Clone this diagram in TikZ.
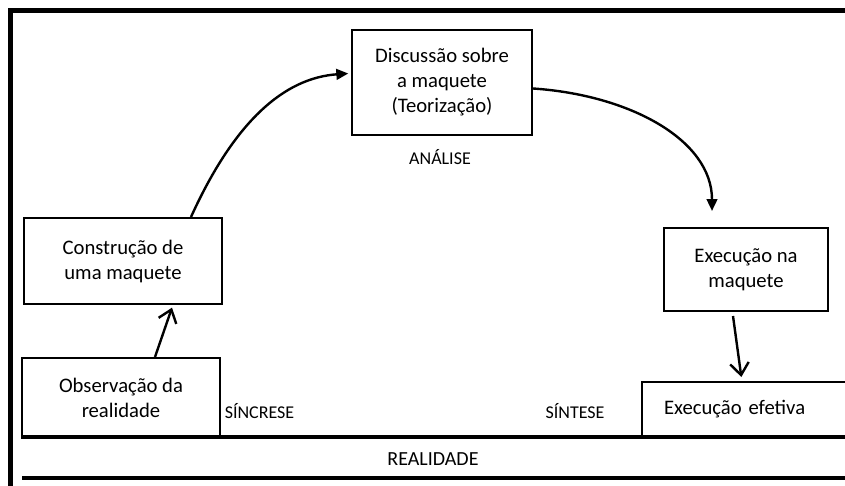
\documentclass[tikz,border=0pt]{standalone}
\usepackage{fontspec}
\setmainfont{Carlito}
\usetikzlibrary{arrows.meta}
\begin{document}
\begin{tikzpicture}[x=0.75pt,y=-0.75pt,
  box/.style={draw=black,line width=1.5pt,align=center,inner sep=0pt,
    font=\fontsize{15.5}{18.75}\selectfont},
  lbl/.style={font=\fontsize{13.5}{16}\selectfont,inner sep=0pt},
  curvearrow/.style={line width=1.8pt,-{Triangle[length=9pt,width=8pt]}},
  openarrow/.style={line width=1.8pt,-{Straight Barb[length=9pt,width=14pt,line width=1.8pt]}},
  groundline/.style={line width=2.4pt}]
\clip (0,0) rectangle (845,485);
\fill[white] (0,0) rectangle (845,485);
% frame
\draw[line width=3.75pt] (10.5,490) -- (10.5,11) -- (850,11);
% ground lines
\draw[groundline] (22,437) -- (850,437);
\draw[groundline] (22,478) -- (850,478);
% boxes
\node[box,minimum width=135pt,minimum height=78.75pt] (disc) at (442,82.5)
  {Discussão sobre\\a maquete\\(Teorização)};
\node[box,minimum width=148.5pt,minimum height=64.5pt] (cons) at (123,261)
  {Construção de\\uma maquete};
\node[box,minimum width=148.5pt,minimum height=60pt] (obs) at (121,398)
  {Observação da\\realidade};
\node[box,minimum width=123pt,minimum height=62.25pt] (exm) at (746,269.5)
  {Execução na\\maquete};
\node[box,anchor=west,minimum height=41.25pt,text width=140pt,align=left,inner xsep=16.5pt] (exe) at (641,409.5)
  {Execução efetiva};
% labels
\node[lbl] (analise) at (440,157) {ANÁLISE};
\node[lbl] (sincrese) at (259.5,411) {SÍNCRESE};
\node[lbl] (sintese) at (575,411) {SÍNTESE};
\node[lbl,font=\fontsize{15}{18}\selectfont] (realidade) at (433,459) {REALIDADE};
% connectors
\coordinate (c1) at ([xshift=-2pt,yshift=6.75pt]disc.west);
\draw[curvearrow] ([xshift=51pt]cons.north) .. controls (235,120) and (285,78) .. (c1);
\coordinate (c2) at ([xshift=-25.5pt,yshift=12pt]exm.north);
\draw[curvearrow] ([yshift=-4.5pt]disc.east) .. controls (630,95) and (712,140) .. (c2);
\draw[openarrow] ([xshift=25.5pt]obs.north) -- ([xshift=36.75pt,yshift=-2pt]cons.south);
\draw[openarrow] ([xshift=-9.75pt,yshift=-3pt]exm.south) -- ([xshift=-12pt,yshift=3pt]exe.north);
\end{tikzpicture}
\end{document}
